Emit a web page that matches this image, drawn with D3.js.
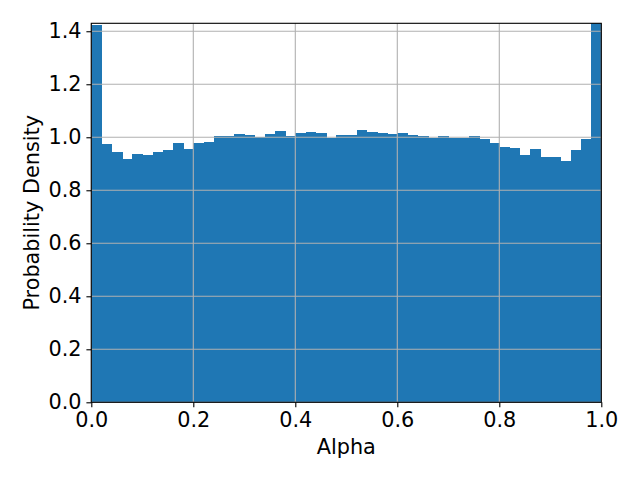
<!DOCTYPE html>
<html><head><meta charset="utf-8">
<script src="https://cdn.jsdelivr.net/npm/d3@7"></script>
<style>body{margin:0;background:#fff}svg{display:block}</style>
</head><body>
<script>
const binEdgesStart = 0, binEdgesEnd = 1, binCount = 50;
const densities = [1.424,0.975,0.946,0.918,0.937,0.933,0.946,0.952,0.980,0.956,
  0.980,0.983,1.005,1.005,1.014,1.009,1.000,1.012,1.024,1.005,
  1.016,1.020,1.016,0.998,1.008,1.008,1.028,1.020,1.016,1.012,
  1.016,1.008,1.005,0.998,1.005,0.999,0.999,1.005,0.994,0.980,
  0.964,0.960,0.933,0.956,0.926,0.926,0.911,0.952,0.994,1.45];
const xTicks = [0, 0.2, 0.4, 0.6, 0.8, 1.0];
const yTicks = [0, 0.2, 0.4, 0.6, 0.8, 1.0, 1.2, 1.4];
const xLabel = "Alpha", yLabel = "Probability Density";

const W = 640, H = 480, FS = 20.8;
const m = {left: 91.3, right: 640 - 601.3, top: 23.3, bottom: 480 - 402.3};
const svg = d3.select("body").append("svg").attr("width", W).attr("height", H);
const x = d3.scaleLinear().domain([binEdgesStart, binEdgesEnd]).range([m.left, W - m.right]);
const y = d3.scaleLinear().domain([0, 1.43]).range([H - m.bottom, m.top]);
const bw = (binEdgesEnd - binEdgesStart) / binCount;
const bins = densities.map((d, i) => ({x0: binEdgesStart + i * bw, x1: binEdgesStart + (i + 1) * bw, v: d}));

svg.append("clipPath").attr("id", "clip").append("rect")
  .attr("x", m.left).attr("y", m.top).attr("width", W - m.left - m.right).attr("height", H - m.top - m.bottom);

svg.append("g").attr("clip-path", "url(#clip)").selectAll("rect").data(bins).join("rect")
  .attr("x", d => x(d.x0)).attr("width", d => x(d.x1) - x(d.x0) + 0.6)
  .attr("y", d => y(d.v)).attr("height", d => y(0) - y(d.v))
  .attr("fill", "#1f77b4").attr("shape-rendering", "crispEdges");

const grid = svg.append("g").attr("stroke", "#b0b0b0").attr("stroke-width", 1.1);
grid.selectAll("line.gx").data(xTicks).join("line")
  .attr("x1", d => x(d)).attr("x2", d => x(d)).attr("y1", y.range()[0]).attr("y2", y.range()[1]);
grid.selectAll("line.gy").data(yTicks).join("line")
  .attr("y1", d => y(d)).attr("y2", d => y(d)).attr("x1", x.range()[0]).attr("x2", x.range()[1]);

const fmt = d3.format(".1f");
const xAxis = svg.append("g").attr("transform", `translate(0,${y(0)})`)
  .call(d3.axisBottom(x).tickValues(xTicks).tickFormat(fmt).tickSize(4.9).tickPadding(5.5).tickSizeOuter(0));
const yAxis = svg.append("g").attr("transform", `translate(${x(0)},0)`)
  .call(d3.axisLeft(y).tickValues(yTicks).tickFormat(fmt).tickSize(4.9).tickPadding(4.9).tickSizeOuter(0));
[xAxis, yAxis].forEach(a => {
  a.select(".domain").remove();
  a.selectAll("line").attr("stroke", "#000").attr("stroke-width", 1.1);
  a.selectAll("text").attr("font-family", "DejaVu Sans").attr("font-size", FS).attr("fill", "#000");
});

svg.append("rect").attr("x", m.left).attr("y", m.top)
  .attr("width", W - m.left - m.right).attr("height", H - m.top - m.bottom)
  .attr("fill", "none").attr("stroke", "#000").attr("stroke-width", 1.1);

svg.append("text").attr("x", (x.range()[0] + x.range()[1]) / 2).attr("y", 454)
  .attr("text-anchor", "middle").attr("font-family", "DejaVu Sans").attr("font-size", FS).text(xLabel);
svg.append("text").attr("transform", `translate(39,${(y.range()[0] + y.range()[1]) / 2}) rotate(-90)`)
  .attr("text-anchor", "middle").attr("font-family", "DejaVu Sans").attr("font-size", FS).text(yLabel);
</script>
</body></html>
